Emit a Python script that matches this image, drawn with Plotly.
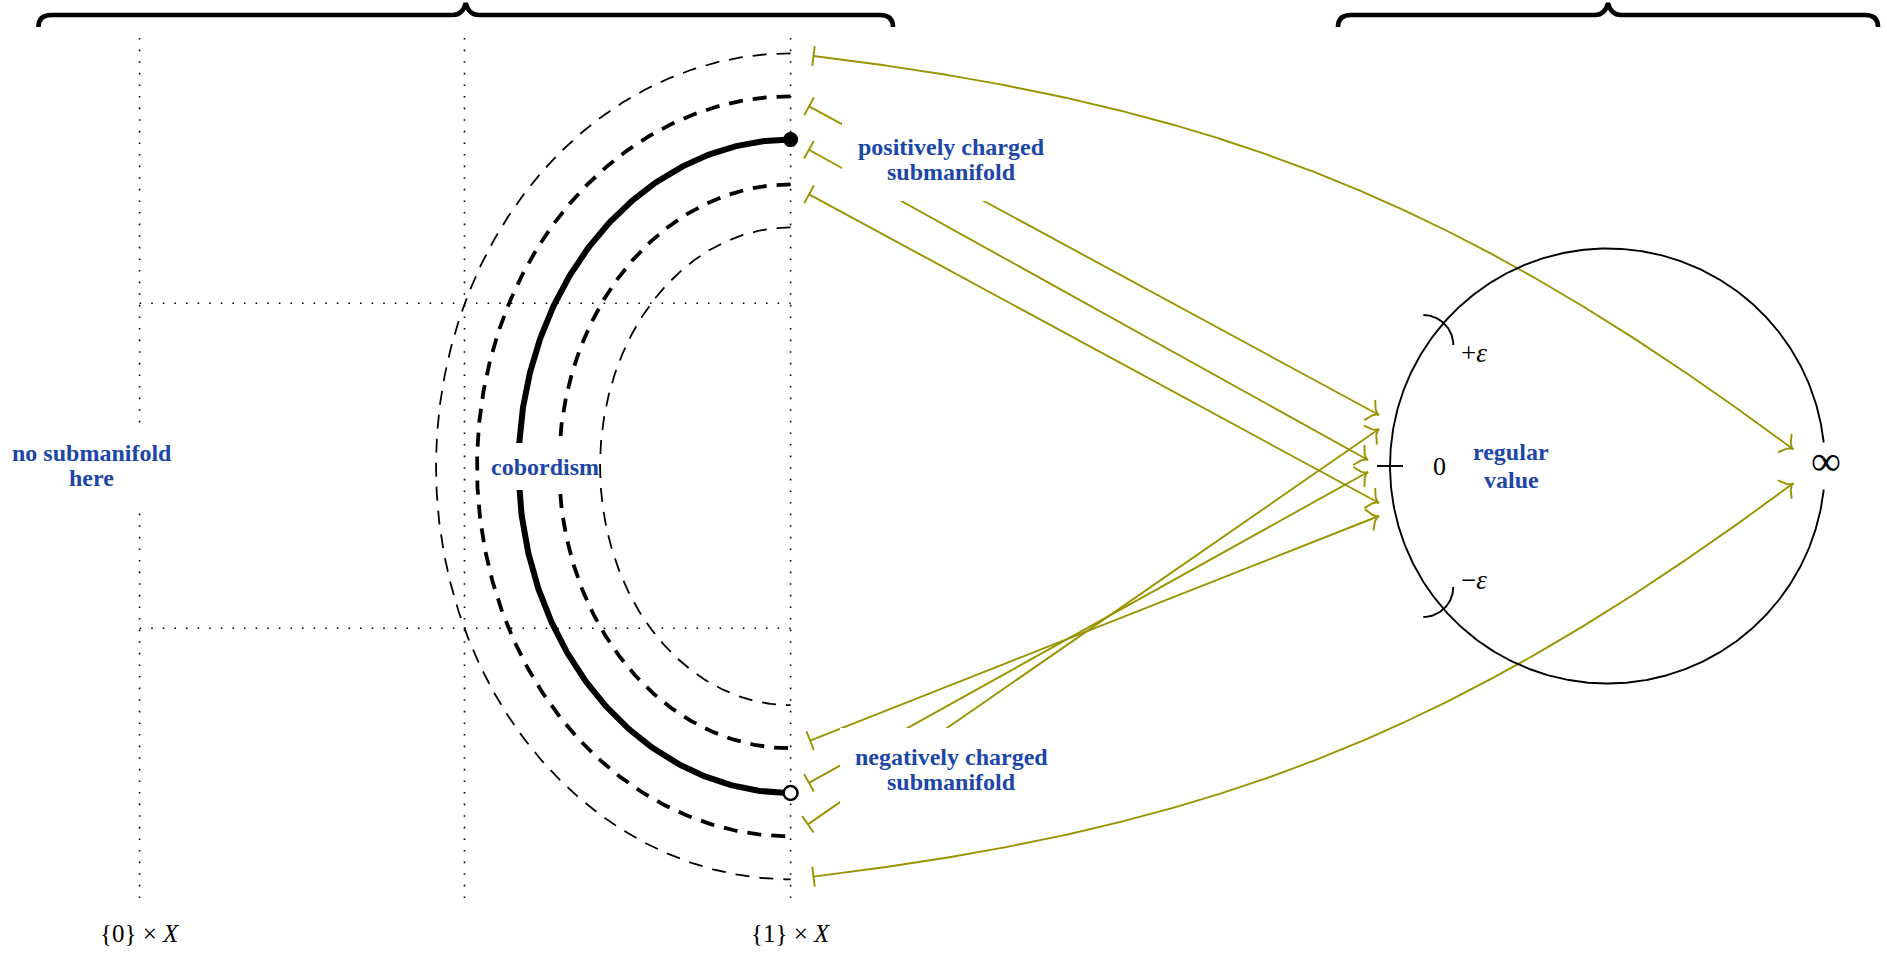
import numpy as np
import plotly.graph_objects as go

W, H = 1887, 954

# ---------------- data (drawing coordinates, px, y downward) ----------------
slice_x = [139.6, 464.5, 790.6]          # {0}xX, middle slice, {1}xX
slice_y_range = [38.0, 902.0]
level_y = [303.3, 628.2]
level_x_range = [139.6, 790.6]

arc_cx, arc_cy = 790.6, 466.3
arc_rx = [354.6, 313.6, 272.0, 231.6, 190.6]
arc_ry = [413.0, 370.0, 326.7, 282.0, 238.9]
arc_kind = ["thin", "thick", "solid", "thick", "thin"]

circle_cx, circle_cy, circle_r = 1607.5, 466.0, 217.5
circle_gap_deg = 6.2
eps_arc_centers = [(1423.3, 345.0), (1423.3, 587.0)]
eps_arc_span = [(90, 0), (0, -90)]
eps_arc_r = 30.0
zero_tick_x = [1377.0, 1403.0]

straight_src = [(1, "top"), (2, "top"), (3, "top"), (3, "bottom"), (2, "bottom"), (1, "bottom")]
straight_tip = [(1379, 415), (1368, 460), (1379, 503), (1379, 516), (1368, 472), (1379, 429)]
curved_src = [(0, "top"), (0, "bottom")]
curved_tip = [(1793.3, 449.3), (1793.3, 483.3)]
curved_bend = [15.0, -15.0]

braces = [(38.5, 893.0), (1338.0, 1878.0)]

label_boxes = [  # x0, x1, y0, y1
    (842, 1060, 119, 201),
    (840, 1062, 728, 810),
    (0, 178, 427, 505),
    (490, 599, 443, 490),
]
blue_labels = [
    ("positively charged", 951, 146.5),
    ("submanifold", 951, 172),
    ("negatively charged", 951, 757),
    ("submanifold", 951, 782),
    ("no submanifold", 91.5, 452.5),
    ("here", 91.5, 478),
    ("cobordism", 545, 467),
    ("regular", 1511, 451.5),
    ("value", 1511, 479.5),
]
math_labels = [
    ("0", 1439.3, 466, 26),
    ("+<i>ε</i>", 1474, 353, 27),
    ("−<i>ε</i>", 1474, 580, 27),
    ("∞", 1826, 461, 42),
    ("{0} × <i>X</i>", 139.6, 933.8, 25),
    ("{1} × <i>X</i>", 790.6, 933.8, 25),
]

OLIVE = "#9a9300"
BLUE = "#1c47a8"
SHORTEN = 21.0

fig = go.Figure()


def add_line(xs, ys, color="black", width=2.0, dash=None):
    fig.add_trace(go.Scatter(x=list(xs), y=list(ys), mode="lines",
                             line=dict(color=color, width=width, dash=dash),
                             hoverinfo="skip", showlegend=False))


# dotted grid
for x in slice_x:
    add_line([x, x], slice_y_range, width=1.6, dash="1.6px,10px")
for y in level_y:
    add_line(level_x_range, [y, y], width=1.6, dash="1.6px,10px")

# arcs
t = np.linspace(np.pi / 2, 3 * np.pi / 2, 400)
for rx, ry, kind in zip(arc_rx, arc_ry, arc_kind):
    xs = arc_cx + rx * np.cos(t)
    ys = arc_cy - ry * np.sin(t)
    if kind == "thin":
        add_line(xs, ys, width=1.8, dash="14px,10px")
    elif kind == "thick":
        add_line(xs, ys, width=3.8, dash="14px,10px")
    else:
        add_line(xs, ys, width=6.0)


def arc_end(i, which):
    return (arc_cx, arc_cy - arc_ry[i]) if which == "top" else (arc_cx, arc_cy + arc_ry[i])


def bar(p, d, half=10.0):
    n = np.array([-d[1], d[0]])
    a, b = p + half * n, p - half * n
    add_line([a[0], b[0]], [a[1], b[1]], color=OLIVE, width=1.9)


def head(tip, d):
    n = np.array([-d[1], d[0]])
    s = np.linspace(0, 1, 20)
    for sg in (1, -1):
        P = tip - 10.5 * d + sg * 11.5 * n
        C = tip - 5.0 * d
        pts = ((1 - s) ** 2)[:, None] * P + (2 * (1 - s) * s)[:, None] * C + (s ** 2)[:, None] * tip
        add_line(pts[:, 0], pts[:, 1], color=OLIVE, width=1.9)


# straight olive maps
for (i, which), tip in zip(straight_src, straight_tip):
    p0 = np.array(arc_end(i, which))
    p1 = np.array(tip, dtype=float)
    d = (p1 - p0) / np.linalg.norm(p1 - p0)
    ps = p0 + SHORTEN * d
    add_line([ps[0], p1[0]], [ps[1], p1[1]], color=OLIVE, width=1.9)
    bar(ps, d)
    head(p1, d)

# curved olive maps
for (i, which), tip, bend in zip(curved_src, curved_tip, curved_bend):
    p0 = np.array(arc_end(i, which))
    p3 = np.array(tip, dtype=float)
    ch = p3 - p0
    L = np.linalg.norm(ch)
    phi = np.arctan2(ch[1], ch[0])
    b = np.radians(bend)
    k = 0.3915 * L
    c1 = p0 + k * np.array([np.cos(phi - b), np.sin(phi - b)])
    c2 = p3 - k * np.array([np.cos(phi + b), np.sin(phi + b)])
    s = np.linspace(0, 1, 600)[:, None]
    pts = (1 - s) ** 3 * p0 + 3 * (1 - s) ** 2 * s * c1 + 3 * (1 - s) * s ** 2 * c2 + s ** 3 * p3
    dist = np.linalg.norm(pts - p0, axis=1)
    keep = pts[dist >= SHORTEN]
    add_line(keep[:, 0], keep[:, 1], color=OLIVE, width=1.9)
    d0 = keep[1] - keep[0]
    bar(keep[0], d0 / np.linalg.norm(d0))
    d1 = pts[-1] - pts[-8]
    head(p3, d1 / np.linalg.norm(d1))

# circle with gap at infinity
g = np.radians(circle_gap_deg)
tc = np.linspace(g, 2 * np.pi - g, 600)
add_line(circle_cx + circle_r * np.cos(tc), circle_cy - circle_r * np.sin(tc), width=1.9)
add_line(zero_tick_x, [circle_cy, circle_cy], width=1.9)
for (ex, ey), (a0, a1) in zip(eps_arc_centers, eps_arc_span):
    ta = np.radians(np.linspace(a0, a1, 60))
    add_line(ex + eps_arc_r * np.cos(ta), ey - eps_arc_r * np.sin(ta), width=1.9)

# end points of the cobordism
top_pt = arc_end(2, "top")
bot_pt = arc_end(2, "bottom")
fig.add_trace(go.Scatter(x=[top_pt[0]], y=[top_pt[1]], mode="markers",
                         marker=dict(size=15, color="black"), hoverinfo="skip", showlegend=False))
fig.add_trace(go.Scatter(x=[bot_pt[0]], y=[bot_pt[1]], mode="markers",
                         marker=dict(size=14, color="white", line=dict(color="black", width=2.4)),
                         hoverinfo="skip", showlegend=False))

# braces
shapes = []
for xa, xb in braces:
    xm = (xa + xb) / 2
    yb, ye, yt, r = 15.0, 27.0, 3.0, 13.0
    path = (f"M {xa},{ye} Q {xa},{yb} {xa + r},{yb} L {xm - r},{yb} "
            f"Q {xm - 3},{yb} {xm},{yt} Q {xm + 3},{yb} {xm + r},{yb} "
            f"L {xb - r},{yb} Q {xb},{yb} {xb},{ye}")
    shapes.append(dict(type="path", path=path, xref="x", yref="y",
                       line=dict(color="black", width=4.6), layer="above"))

for x0, x1, y0, y1 in label_boxes:
    shapes.append(dict(type="rect", x0=x0, x1=x1, y0=y0, y1=y1, xref="x", yref="y",
                       fillcolor="white", line=dict(width=0), layer="above"))

annotations = []
for txt, x, y in blue_labels:
    annotations.append(dict(x=x, y=y, xref="x", yref="y", text=f"<b>{txt}</b>", showarrow=False,
                            xanchor="center", yanchor="middle",
                            font=dict(family="Liberation Serif", size=24, color=BLUE)))
for txt, x, y, sz in math_labels:
    annotations.append(dict(x=x, y=y, xref="x", yref="y", text=txt, showarrow=False,
                            xanchor="center", yanchor="middle",
                            font=dict(family="Liberation Serif", size=sz, color="black")))

fig.update_layout(
    width=W, height=H, margin=dict(l=0, r=0, t=0, b=0),
    paper_bgcolor="white", plot_bgcolor="white",
    xaxis=dict(range=[0, W], visible=False, fixedrange=True),
    yaxis=dict(range=[H, 0], visible=False, fixedrange=True),
    shapes=shapes, annotations=annotations, showlegend=False,
)

fig.write_html("out.html", config={"displayModeBar": False},
               post_script="document.body.style.margin='0';document.body.style.overflow='hidden';")
